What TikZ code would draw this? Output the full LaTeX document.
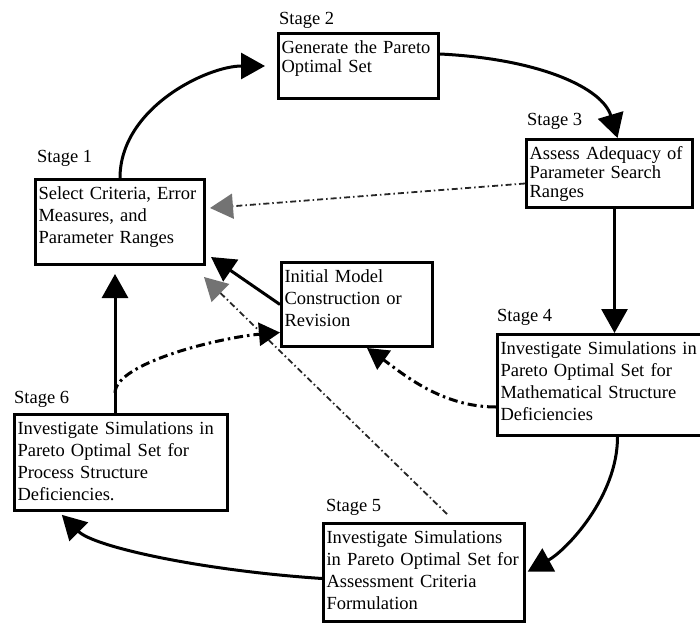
\documentclass[tikz,border=0pt]{standalone}
\usepackage{fontspec}
\setmainfont{Liberation Serif}
\usepackage{tikz}
\usetikzlibrary{arrows.meta,calc}

\begin{document}
\begin{tikzpicture}[
    x=1pt, y=-1pt,
    box/.style={draw, line width=3pt, anchor=north west, align=left, inner xsep=3pt, inner ysep=4pt, text height=16pt, font=\fontsize{18.5}{22}\selectfont},
    stagelab/.style={anchor=base west, inner sep=0pt, font=\fontsize{18.5}{22}\selectfont},
    arr/.style={-{Triangle[length=24pt,width=26pt]}, line width=3pt},
    dd/.style={-{Triangle[length=21pt,width=23pt]}, line width=3pt, dash pattern=on 9pt off 4pt on 2.5pt off 4pt},
    gdd/.style={-{Triangle[length=23pt,width=25pt,color=black!55]}, line width=1.8pt, draw=black!85, dash pattern=on 6pt off 3pt on 1.5pt off 3pt}
]
  \useasboundingbox (0,0) rectangle (700,623);

  % Stage boxes
  \node[box, text width=163pt, text depth=61pt] (sel) at (34,178) {Select Criteria, Error\\Measures, and\\Parameter Ranges};
  \node[box, text width=154pt, text depth=41pt, font=\fontsize{18.5}{19}\selectfont] (gen) at (277,32) {Generate the Pareto\\Optimal Set};
  \node[box, text width=160pt, text depth=44pt, font=\fontsize{18.5}{19}\selectfont] (adeq) at (525,138) {Assess Adequacy of\\Parameter Search\\Ranges};
  \node[box, text width=145pt, text depth=60pt] (imc) at (280,261) {Initial Model\\Construction or\\Revision};
  \node[box, text width=200pt, text depth=77pt] (math) at (496,333) {Investigate Simulations in\\Pareto Optimal Set for\\Mathematical Structure\\Deficiencies};
  \node[box, text width=195pt, text depth=74pt] (crit) at (322,522) {Investigate Simulations\\in Pareto Optimal Set for\\Assessment Criteria\\Formulation};
  \node[box, text width=207pt, text depth=72pt] (proc) at (13,413) {Investigate Simulations in\\Pareto Optimal Set for\\Process Structure\\Deficiencies.};

  % Stage labels
  \node[stagelab] (lab1) at (37,162) {Stage 1};
  \node[stagelab] (lab2) at (279,25) {Stage 2};
  \node[stagelab] (lab3) at (527,125) {Stage 3};
  \node[stagelab] (lab4) at (497,321) {Stage 4};
  \node[stagelab] (lab5) at (326,511) {Stage 5};
  \node[stagelab] (lab6) at (14,403) {Stage 6};

  % Main cycle
  \draw[arr, shorten >=12pt] (sel.north) .. controls +(0,-70) and +(-70,0) .. (gen.west);
  \draw[arr] ([yshift=12pt]gen.east) .. controls +(100,5) and +(-15,-50) .. ([xshift=8pt]adeq.north);
  \draw[arr] ([xshift=5pt]adeq.south) -- ([xshift=5pt]adeq.south |- math.north);
  \draw[arr, shorten >=2pt] ([xshift=17pt]math.south) .. controls +(0,60) and +(40,-22) .. (crit.east);
  \draw[arr, shorten >=4pt] ([yshift=-6pt]crit.west) .. controls +(-120,-8) and +(35,35) .. ([xshift=-62pt]proc.south);
  \draw[arr, shorten >=8pt] ([xshift=-6pt]proc.north) -- ([xshift=-6pt]proc.north |- sel.south);
  \draw[arr] (imc.west) -- ([xshift=5pt,yshift=9pt]sel.south east);

  % Feedback to stage 1
  \draw[gdd] ([yshift=-10pt]adeq.west) -- ([xshift=4pt,yshift=14pt]sel.east);
  \draw[gdd] ([xshift=23pt,yshift=8pt]crit.north) -- ([xshift=-2pt,yshift=-11pt]sel.south east);

  % Feedback to model revision
  \draw[dd] ([xshift=-6pt,yshift=20pt]proc.north) .. controls +(0,-30) and +(-60,5) .. ([yshift=-28pt]imc.west);
  \draw[dd] ([yshift=-22pt]math.west) .. controls +(-55,0) and +(35,25) .. ([xshift=10pt]imc.south);
\end{tikzpicture}
\end{document}
